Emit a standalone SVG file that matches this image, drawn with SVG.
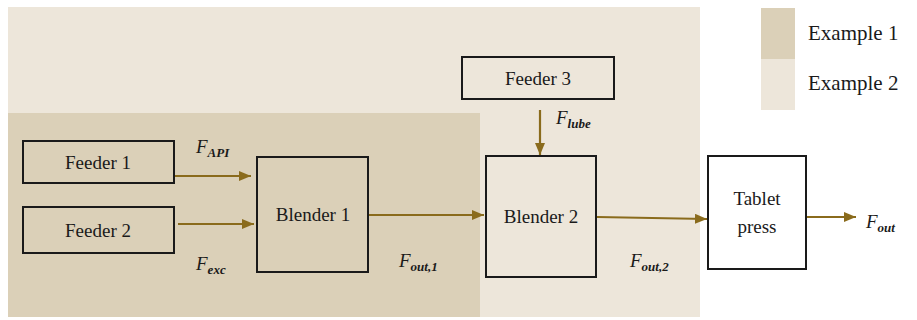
<svg xmlns="http://www.w3.org/2000/svg" width="917" height="320" viewBox="0 0 917 320">
<defs>
<style>
.bg{fill:#ffffff}
.ex2{fill:#ede6da}
.ex1{fill:#dbd0b8}
.box{stroke:#1a1a1a;stroke-width:2}
.lbl{font-family:"Liberation Serif","Times New Roman",serif;font-size:19px;fill:#1a1a1a;text-anchor:middle}
.leg{font-family:"Liberation Serif","Times New Roman",serif;font-size:21px;fill:#1a1a1a}
.var{font-family:"Liberation Serif","Times New Roman",serif;font-style:italic;font-size:19px;fill:#1a1a1a}
.sub{font-size:13px;font-weight:bold}
.conn{stroke:#8a6b1c;stroke-width:2.2;fill:none;marker-end:url(#ah)}
</style>
<marker id="ah" viewBox="0 0 12 10" refX="12" refY="5" markerWidth="12" markerHeight="10" markerUnits="userSpaceOnUse" orient="auto">
<path d="M0,0 L12,5 L0,10 z" fill="#8a6b1c"/>
</marker>
</defs>
<rect class="bg" x="0" y="0" width="917" height="320"/>
<g id="region-example2"><rect class="ex2" x="8" y="7" width="692" height="310"/></g>
<g id="region-example1"><rect class="ex1" x="8" y="113" width="472" height="204"/></g>
<g id="legend">
<rect class="ex1" x="761" y="8" width="34" height="51"/>
<rect class="ex2" x="761" y="59" width="34" height="51"/>
<text class="leg" x="808" y="40">Example 1</text>
<text class="leg" x="808" y="90">Example 2</text>
</g>
<g id="feeder1"><rect class="box" x="23" y="141" width="151" height="42" fill="#dbd0b8"/><text class="lbl" x="98" y="169">Feeder 1</text></g>
<g id="feeder2"><rect class="box" x="23" y="207" width="151" height="46" fill="#dbd0b8"/><text class="lbl" x="98" y="237">Feeder 2</text></g>
<g id="blender1"><rect class="box" x="257" y="157" width="111" height="115" fill="#dbd0b8"/><text class="lbl" x="313" y="221">Blender 1</text></g>
<g id="feeder3"><rect class="box" x="462" y="57" width="152" height="42" fill="#ede6da"/><text class="lbl" x="538" y="85">Feeder 3</text></g>
<g id="blender2"><rect class="box" x="486" y="156" width="110" height="121" fill="#ede6da"/><text class="lbl" x="541" y="223">Blender 2</text></g>
<g id="tablet-press"><rect class="box" x="708" y="156" width="98" height="113" fill="#ffffff"/><text class="lbl" x="757" y="205">Tablet</text><text class="lbl" x="757" y="233">press</text></g>
<g id="connectors">
<line class="conn" x1="175" y1="176" x2="251" y2="176"/>
<line class="conn" x1="178" y1="224" x2="254" y2="224"/>
<line class="conn" x1="369" y1="215" x2="484" y2="215"/>
<line class="conn" x1="540" y1="110" x2="540" y2="155"/>
<line class="conn" x1="597" y1="217" x2="707" y2="219"/>
<line class="conn" x1="807" y1="217" x2="856" y2="217"/>
</g>
<g id="labels">
<text class="var" x="196" y="153">F<tspan class="sub" dy="4">API</tspan></text>
<text class="var" x="196" y="270">F<tspan class="sub" dy="4">exc</tspan></text>
<text class="var" x="556" y="124">F<tspan class="sub" dy="4">lube</tspan></text>
<text class="var" x="399" y="267">F<tspan class="sub" dy="4">out,1</tspan></text>
<text class="var" x="630" y="267">F<tspan class="sub" dy="4">out,2</tspan></text>
<text class="var" x="866" y="228">F<tspan class="sub" dy="4">out</tspan></text>
</g>
</svg>
